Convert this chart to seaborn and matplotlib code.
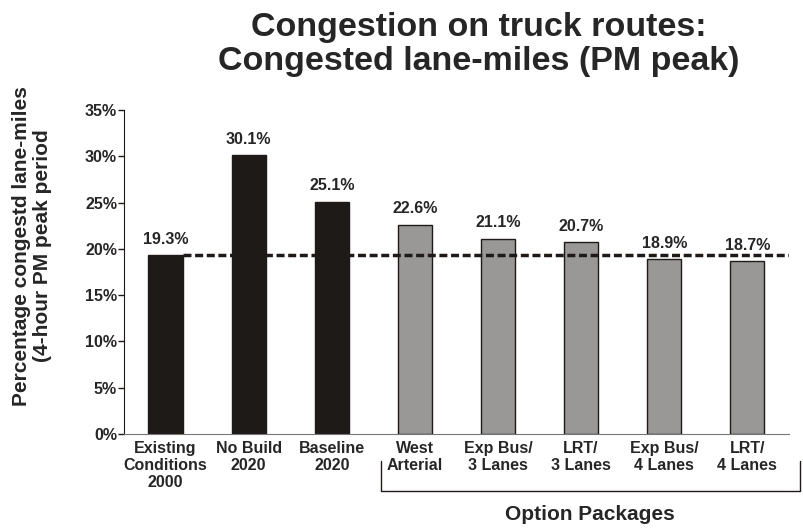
import pandas as pd
import matplotlib.pyplot as plt
import seaborn as sns

# values
categories = ["Existing\nConditions\n2000", "No Build\n2020", "Baseline\n2020", "West\nArterial",
              "Exp Bus/\n3 Lanes", "LRT/\n3 Lanes", "Exp Bus/\n4 Lanes", "LRT/\n4 Lanes"]
values = [19.3, 30.1, 25.1, 22.6, 21.1, 20.7, 18.9, 18.7]
groups = ["base", "base", "base", "option", "option", "option", "option", "option"]
baseline = 19.3

sns.set_style("white")
plt.rcParams['font.family'] = ['Liberation Sans', 'DejaVu Sans']
plt.rcParams['font.weight'] = 'bold'

df = pd.DataFrame({"cat": categories, "val": values, "grp": groups})

fig = plt.figure(figsize=(8.04, 5.29), dpi=100)
ax = fig.add_axes([0.1542, 0.1796, 0.827, 0.6125])

sns.barplot(data=df, x="cat", y="val", hue="grp", palette={"base": "#1f1a17", "option": "#999896"},
            dodge=False, width=0.41, edgecolor="#1f1a17", linewidth=1, legend=False, ax=ax)

for i, v in enumerate(values):
    ax.text(i, v + 0.9, f"{v}%", ha="center", va="bottom", fontsize=11.5, fontweight="bold")

ax.hlines(baseline, 0.205, 7.5, colors="#1f1a17", linestyles=(0, (2.3, 1.05)), linewidth=2.5, zorder=3)

ax.set_xlim(-0.5, 7.5)
ax.set_ylim(0, 35)
ax.set_yticks(range(0, 36, 5))
ax.set_yticklabels([f"{t}%" for t in range(0, 36, 5)], fontsize=11.5, fontweight="bold")
ax.set_xticks(range(len(categories)))
ax.set_xticklabels(categories, fontsize=11.5, fontweight="bold", linespacing=1.15)
ax.tick_params(axis="y", direction="out", length=4, width=1, pad=1, left=True, color="#1f1a17")
ax.tick_params(axis="x", length=0, pad=5)
ax.set_xlabel("")
ax.set_ylabel("")

fig.text(0.04, 0.535, "Percentage congestd lane-miles\n(4-hour PM peak period", rotation=90,
         ha="center", va="center", fontsize=15, fontweight="bold", linespacing=1.1)

sns.despine(ax=ax)
ax.spines["left"].set_color("#1f1a17")
ax.spines["bottom"].set_color("#777777")

# bracket under the option packages
trans = ax.get_xaxis_transform()
bx0, bx1, by0, by1 = 2.59, 7.63, -0.083, -0.176
ax.plot([bx0, bx0, bx1, bx1], [by0, by1, by1, by0], color="#1f1a17", lw=1,
        transform=trans, clip_on=False)
ax.text((bx0 + bx1) / 2, -0.22, "Option Packages", transform=trans, ha="center", va="top",
        fontsize=15, fontweight="bold")

fig.suptitle("Congestion on truck routes:\nCongested lane-miles (PM peak)", x=0.596, y=0.978,
             fontsize=24.5, fontweight="bold", linespacing=1.15)

fig.savefig("out.png", dpi=100)
